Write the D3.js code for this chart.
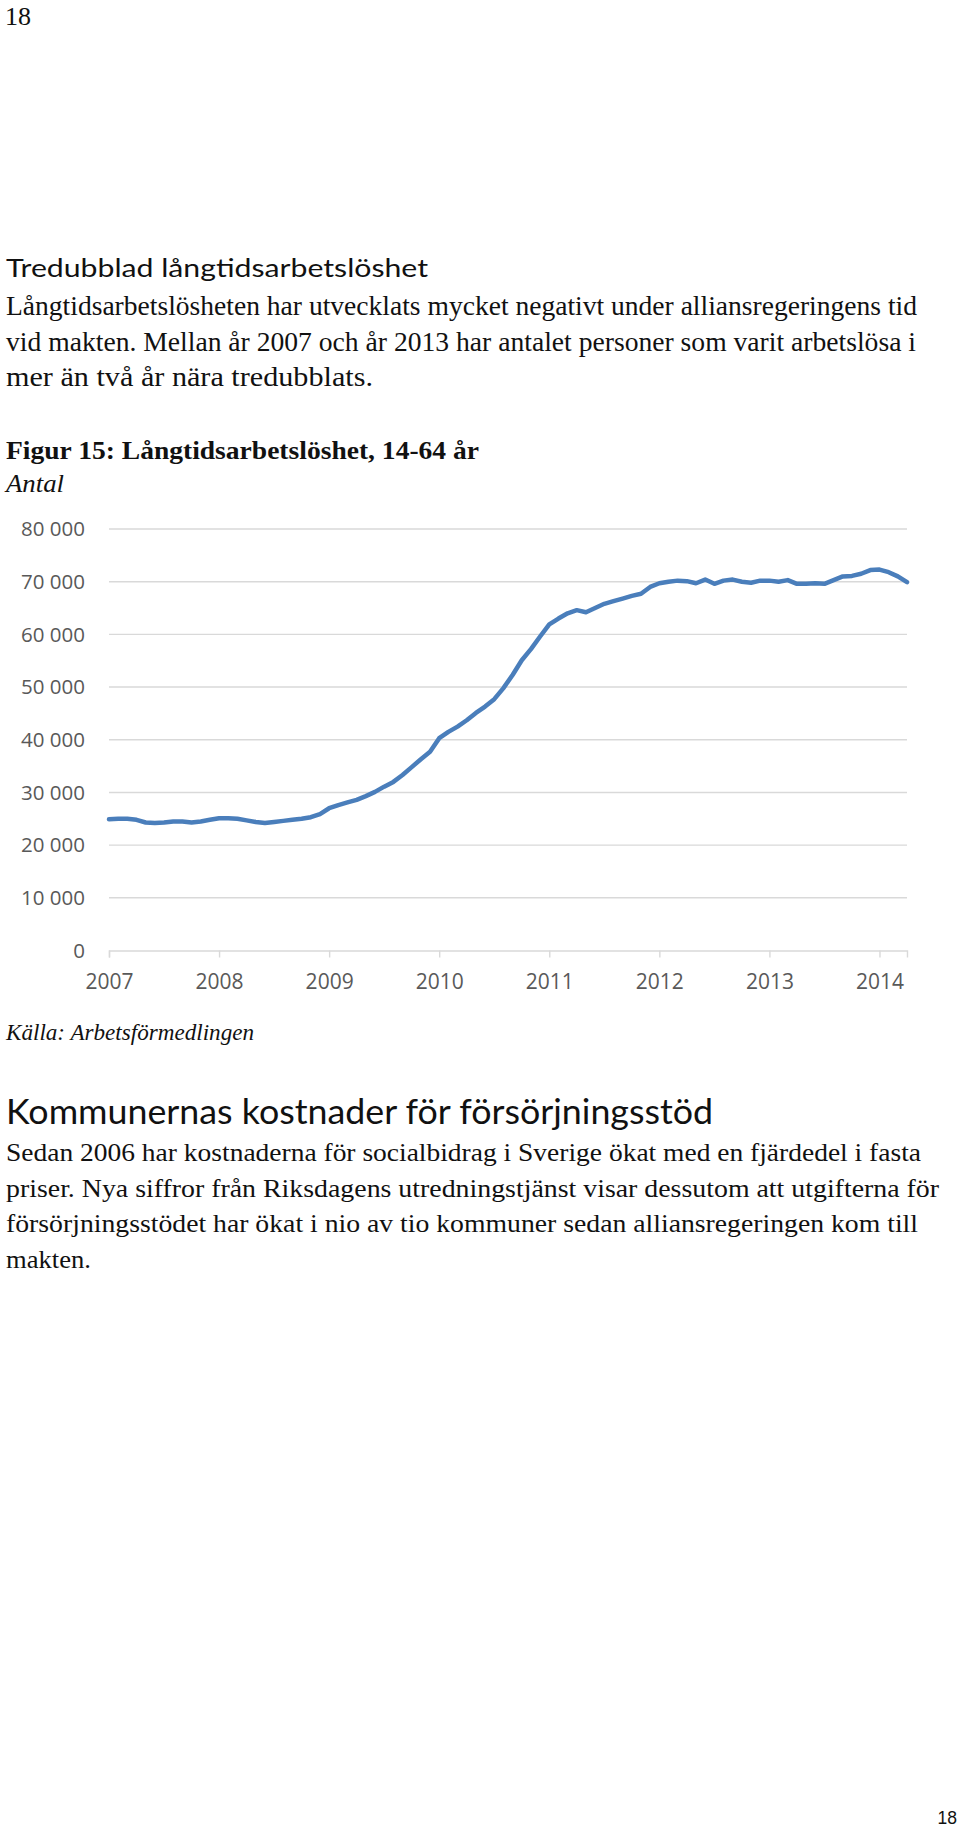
<!DOCTYPE html>
<html>
<head>
<meta charset="utf-8">
<script src="https://cdn.jsdelivr.net/npm/d3@7"></script>
<style>
  html, body { margin: 0; padding: 0; background: #fff; }
  svg { display: block; }
</style>
</head>
<body>
<div id="page"></div>
<script>
// ---- Data ----
const startYear = 2007;           // first observation: January 2007, monthly
const values = [
  24900, 25000, 25000, 24800, 24300, 24200, 24300, 24500, 24500, 24300, 24500, 24800, // 2007
  25100, 25100, 25000, 24700, 24400, 24200, 24400, 24600, 24800, 25000, 25300, 25900, // 2008
  27000, 27600, 28100, 28600, 29300, 30100, 31100, 32000, 33300, 34800, 36300, 37700, // 2009
  40300, 41500, 42500, 43700, 45100, 46300, 47700, 49800, 52300, 55100, 57200, 59600, // 2010
  61900, 63000, 64000, 64600, 64200, 65000, 65800, 66300, 66800, 67300, 67700, 69000, // 2011
  69700, 70000, 70200, 70100, 69700, 70400, 69600, 70200, 70400, 70000, 69800, 70200, // 2012
  70200, 70000, 70300, 69600, 69600, 69700, 69600, 70300, 71000, 71100, 71500, 72200, // 2013
  72300, 71800, 71000, 69900                                                          // 2014
];
const yearTicks = [2007, 2008, 2009, 2010, 2011, 2012, 2013, 2014];
const yTicks = [0, 10000, 20000, 30000, 40000, 50000, 60000, 70000, 80000];

const para1 = [
  "Långtidsarbetslösheten har utvecklats mycket negativt under alliansregeringens tid",
  "vid makten. Mellan år 2007 och år 2013 har antalet personer som varit arbetslösa i",
  "mer än två år nära tredubblats."
];
const para2 = [
  "Sedan 2006 har kostnaderna för socialbidrag i Sverige ökat med en fjärdedel i fasta",
  "priser. Nya siffror från Riksdagens utredningstjänst visar dessutom att utgifterna för",
  "försörjningsstödet har ökat i nio av tio kommuner sedan alliansregeringen kom till",
  "makten."
];

// ---- Page ----
const W = 960, H = 1828;
const svg = d3.select("#page").append("svg").attr("width", W).attr("height", H);
svg.append("rect").attr("width", W).attr("height", H).attr("fill", "#fff");

const serif = "'Liberation Serif', 'DejaVu Serif', serif";
const sans = "Lato, 'Open Sans', sans-serif";
const chartFont = "'Open Sans', 'Liberation Sans', sans-serif";

function txt(str, x, y, opts) {
  const t = svg.append("text").attr("x", x).attr("y", y).text(str)
    .attr("font-family", opts.family || serif)
    .attr("font-size", opts.size)
    .attr("fill", opts.fill || "#111");
  if (opts.weight) t.attr("font-weight", opts.weight);
  if (opts.style) t.attr("font-style", opts.style);
  if (opts.len) t.attr("textLength", opts.len).attr("lengthAdjust", "spacingAndGlyphs");
  if (opts.anchor) t.attr("text-anchor", opts.anchor);
  return t;
}

// Page header number
txt("18", 5, 25, {size: 26});

// Section heading 1
txt("Tredubblad långtidsarbetslöshet", 6, 277, {family: sans, size: 25.5, len: 422});
const p1Len = [911, 910, 367];
const p1Y = [315, 350.5, 386];
para1.forEach((s, i) => txt(s, 6, p1Y[i], {size: 26.5, len: p1Len[i]}));

// Figure title
txt("Figur 15: Långtidsarbetslöshet, 14-64 år", 6, 459, {size: 25, weight: "bold", len: 473});
txt("Antal", 6, 492, {size: 25, style: "italic", len: 58});

// ---- Chart ----
const x = d3.scaleLinear().domain([2007, 2014 + 3 / 12]).range([109, 907]);
const y = d3.scaleLinear().domain([0, 80000]).range([950.5, 529]);

const grid = svg.append("g");
grid.selectAll("line").data(yTicks.filter(d => d > 0)).join("line")
  .attr("x1", x.range()[0]).attr("x2", x.range()[1])
  .attr("y1", d => y(d)).attr("y2", d => y(d))
  .attr("stroke", "#d9d9d9").attr("stroke-width", 1.4);

// y labels
const fmt = d => d === 0 ? "0" : d3.format(",")(d).replace(/,/g, " ");
svg.append("g").selectAll("text").data(yTicks).join("text")
  .attr("x", 85).attr("y", d => y(d))
  .attr("dy", "0.35em")
  .attr("text-anchor", "end")
  .attr("font-family", chartFont).attr("font-size", 20.5)
  .attr("fill", "#595959")
  .text(fmt);

// x axis
const xAxis = d3.axisBottom(x).tickValues(yearTicks).tickSize(7).tickPadding(17).tickFormat(d3.format("d"));
const gx = svg.append("g").attr("transform", `translate(0,${y(0)})`).call(xAxis);
gx.select(".domain").attr("stroke", "#d9d9d9").attr("stroke-width", 1.4);
gx.selectAll(".tick line").attr("stroke", "#d9d9d9").attr("stroke-width", 1.4);
gx.selectAll(".tick text").attr("font-family", chartFont).attr("font-size", 21).attr("fill", "#595959");

// data line
const line = d3.line()
  .x((d, i) => x(startYear + i / 12))
  .y(d => y(d));
svg.append("path").datum(values)
  .attr("d", line)
  .attr("fill", "none")
  .attr("stroke", "#4a7ebb")
  .attr("stroke-width", 4.5)
  .attr("stroke-linejoin", "round")
  .attr("stroke-linecap", "round");

// Source
txt("Källa: Arbetsförmedlingen", 6, 1040, {size: 24, style: "italic", len: 248});

// Section heading 2
txt("Kommunernas kostnader för försörjningsstöd", 6, 1124, {family: sans, size: 35, len: 707});
const p2Len = [915, 933, 912, 85];
const p2Y = [1161, 1197, 1231.5, 1268];
para2.forEach((s, i) => txt(s, 6, p2Y[i], {size: 26, len: p2Len[i]}));

// Footer page number
txt("18", 957, 1824, {family: "'Liberation Sans', Arial, sans-serif", size: 17.5, anchor: "end"});
</script>
</body>
</html>
